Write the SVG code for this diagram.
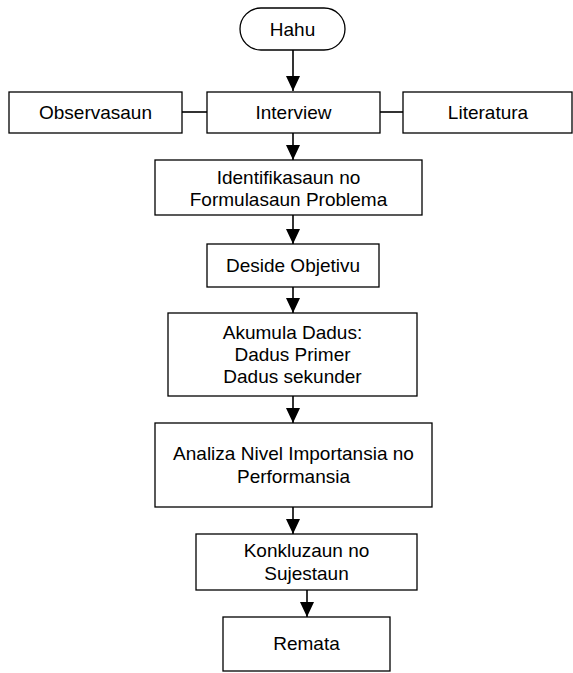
<svg xmlns="http://www.w3.org/2000/svg" width="573" height="673" viewBox="0 0 573 673">
<style>
.box{fill:#fff;stroke:#000;stroke-width:1.3}
.t{font-family:"Liberation Sans",Arial,sans-serif;font-size:19px;fill:#000;text-anchor:middle}
.c{stroke:#000;stroke-width:1.6;fill:none}
</style>
<defs>
<marker id="ah" markerUnits="userSpaceOnUse" markerWidth="16" markerHeight="16" viewBox="0 0 16 16" refX="15" refY="8" orient="auto">
<path d="M0,1 L15,8 L0,15 Z" fill="#000"/>
</marker>
</defs>
<rect width="573" height="673" fill="#fff"/>
<g id="connectors">
<line class="c" x1="293" y1="50" x2="293" y2="91" marker-end="url(#ah)"/>
<line class="c" x1="182" y1="112" x2="207" y2="112"/>
<line class="c" x1="380" y1="112" x2="403" y2="112"/>
<line class="c" x1="293" y1="133" x2="293" y2="160" marker-end="url(#ah)"/>
<line class="c" x1="293" y1="215" x2="293" y2="244" marker-end="url(#ah)"/>
<line class="c" x1="293" y1="287" x2="293" y2="313" marker-end="url(#ah)"/>
<line class="c" x1="293" y1="396" x2="293" y2="423" marker-end="url(#ah)"/>
<line class="c" x1="293" y1="507" x2="293" y2="534" marker-end="url(#ah)"/>
<line class="c" x1="307" y1="590" x2="307" y2="617" marker-end="url(#ah)"/>
</g>
<g id="hahu"><rect class="box" x="240" y="8" width="105" height="42" rx="21" ry="21"/><text class="t" x="292.5" y="36">Hahu</text></g>
<g id="observasaun"><rect class="box" x="9" y="92" width="173" height="41"/><text class="t" x="95.5" y="119">Observasaun</text></g>
<g id="interview"><rect class="box" x="207" y="92" width="173" height="41"/><text class="t" x="293.5" y="119">Interview</text></g>
<g id="literatura"><rect class="box" x="403" y="92" width="169" height="41"/><text class="t" x="488" y="119">Literatura</text></g>
<g id="identifikasaun"><rect class="box" x="155" y="160" width="267" height="55"/><text class="t" x="288.5" y="183.5">Identifikasaun no</text><text class="t" x="288.5" y="206">Formulasaun Problema</text></g>
<g id="deside"><rect class="box" x="207" y="244" width="172" height="43"/><text class="t" x="293" y="272">Deside Objetivu</text></g>
<g id="akumula"><rect class="box" x="168" y="313" width="249" height="83"/><text class="t" x="292.5" y="339">Akumula Dadus:</text><text class="t" x="292.5" y="361">Dadus Primer</text><text class="t" x="292.5" y="383">Dadus sekunder</text></g>
<g id="analiza"><rect class="box" x="155" y="423" width="277" height="84"/><text class="t" x="293.5" y="460">Analiza Nivel Importansia no</text><text class="t" x="293.5" y="483">Performansia</text></g>
<g id="konkluzaun"><rect class="box" x="196" y="534" width="221" height="56"/><text class="t" x="306.5" y="557">Konkluzaun no</text><text class="t" x="306.5" y="580">Sujestaun</text></g>
<g id="remata"><rect class="box" x="223" y="617" width="167" height="54"/><text class="t" x="306.5" y="650">Remata</text></g>
</svg>
